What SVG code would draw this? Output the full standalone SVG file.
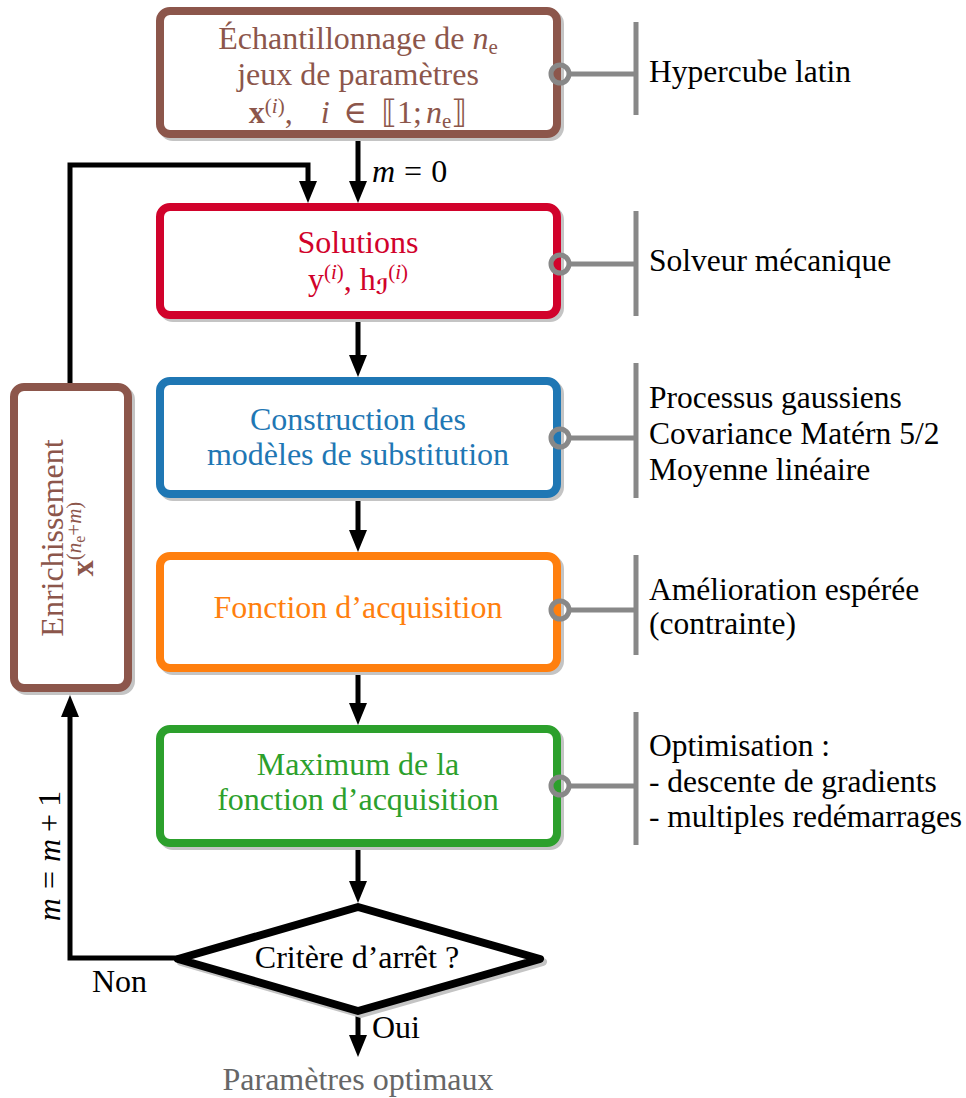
<svg xmlns="http://www.w3.org/2000/svg" width="966" height="1098" viewBox="0 0 966 1098">
<defs>
<style>
text{font-family:"Liberation Serif","DejaVu Serif","DejaVu Sans",serif;font-size:32px;fill:#000}
.c{text-anchor:middle}
.r{font-size:31.5px}
.box{fill:#fff;stroke-width:8}
.shadow{fill:#c4c4c4;stroke:#c4c4c4;stroke-width:8}
.flow{fill:none;stroke:#000;stroke-width:5}
.tag{fill:none;stroke:#888;stroke-width:5}
.it{font-style:italic}
.bf{font-weight:bold}
.sm{font-size:21px}
.xs{font-size:16px}
</style>
<marker id="ah" viewBox="0 0 22 18" refX="12" refY="9" markerWidth="22" markerHeight="18" markerUnits="userSpaceOnUse" orient="auto">
<path d="M0,0 L22,9 L0,18 z" fill="#000"/>
</marker>
</defs>
<rect width="966" height="1098" fill="#fff"/>

<g id="connectors">
<path class="flow" d="M358,138 V193" marker-end="url(#ah)"/>
<path class="flow" d="M358,319 V367" marker-end="url(#ah)"/>
<path class="flow" d="M358,498 V542" marker-end="url(#ah)"/>
<path class="flow" d="M358,672 V715" marker-end="url(#ah)"/>
<path class="flow" d="M358,847 V893" marker-end="url(#ah)"/>
<path class="flow" d="M358,1013 V1047" marker-end="url(#ah)"/>
<path class="flow" d="M70,385 V165 H308 V193" marker-end="url(#ah)"/>
<path class="flow" d="M180,958 H70 V705" marker-end="url(#ah)"/>
<text x="372" y="182"><tspan class="it">m</tspan><tspan dx="9">=</tspan><tspan dx="9">0</tspan></text>
<text x="372" y="1038">Oui</text>
<text x="92" y="992">Non</text>
<text transform="translate(60,856) rotate(-90)" class="c"><tspan class="it">m</tspan><tspan dx="9">=</tspan><tspan class="it" dx="9">m</tspan><tspan dx="7">+</tspan><tspan dx="7">1</tspan></text>
</g>

<g id="sampling">
<rect class="shadow" x="163" y="14" width="397" height="123" rx="10"/>
<rect class="box" x="160" y="11" width="397" height="123" rx="10" stroke="#8c564b"/>
<text x="358" y="49" class="c" style="fill:#8c564b">Échantillonnage de <tspan class="it">n</tspan><tspan class="sm" dy="5">e</tspan></text>
<text x="358" y="85" class="c" style="fill:#8c564b">jeux de paramètres</text>
<text x="358" y="123" class="c" style="fill:#8c564b"><tspan class="bf">x</tspan><tspan class="sm" dy="-10">(<tspan class="it">i</tspan>)</tspan><tspan dy="10">,</tspan><tspan class="it" dx="28">i</tspan><tspan dx="14">∈</tspan><tspan dx="14">⟦1;</tspan><tspan class="it" dx="4">n</tspan><tspan class="sm" dy="5">e</tspan><tspan dy="-5">⟧</tspan></text>
</g>

<g id="solutions">
<rect class="shadow" x="163" y="210" width="397" height="108" rx="10"/>
<rect class="box" x="160" y="207" width="397" height="108" rx="10" stroke="#d1022b"/>
<text x="358" y="253" class="c" style="fill:#d1022b">Solutions</text>
<text x="358" y="290" class="c" style="fill:#d1022b">y<tspan class="sm" dy="-11">(<tspan class="it">i</tspan>)</tspan><tspan dy="11">, h</tspan><tspan class="sm bf it" dy="4">ℐ</tspan><tspan class="sm" dy="-15">(<tspan class="it">i</tspan>)</tspan></text>
</g>

<g id="surrogate">
<rect class="shadow" x="163" y="384" width="397" height="113" rx="10"/>
<rect class="box" x="160" y="381" width="397" height="113" rx="10" stroke="#1f77b4"/>
<text x="358" y="430" class="c" style="fill:#1f77b4">Construction des</text>
<text x="358" y="465" class="c" style="fill:#1f77b4">modèles de substitution</text>
</g>

<g id="acquisition">
<rect class="shadow" x="163" y="559" width="397" height="112" rx="10"/>
<rect class="box" x="160" y="556" width="397" height="112" rx="10" stroke="#ff7f0e"/>
<text x="358" y="618" class="c" style="fill:#ff7f0e">Fonction d’acquisition</text>
</g>

<g id="maximum">
<rect class="shadow" x="163" y="732" width="397" height="114" rx="10"/>
<rect class="box" x="160" y="729" width="397" height="114" rx="10" stroke="#2ca02c"/>
<text x="358" y="775" class="c" style="fill:#2ca02c">Maximum de la</text>
<text x="358" y="810" class="c" style="fill:#2ca02c">fonction d’acquisition</text>
</g>

<g id="enrichment">
<rect class="shadow" x="17" y="390" width="114" height="301" rx="10"/>
<rect class="box" x="14" y="387" width="114" height="301" rx="10" stroke="#8c564b"/>
<text transform="translate(63,538) rotate(-90)" class="c" style="fill:#8c564b">Enrichissement</text>
<text transform="translate(93,539) rotate(-90)" class="c" style="fill:#8c564b"><tspan class="bf">x</tspan><tspan class="sm" dy="-12">(<tspan class="it">n</tspan><tspan class="xs" dy="4">e</tspan><tspan dy="-4">+</tspan><tspan class="it">m</tspan>)</tspan></text>
</g>

<g id="stop">
<path d="M181,962 L361,910 L543,962 L361,1014 Z" fill="#c4c4c4" stroke="#c4c4c4" stroke-width="8" stroke-linejoin="round"/>
<path d="M178,959 L358,907 L540,959 L358,1011 Z" fill="#fff" stroke="#000" stroke-width="8" stroke-linejoin="round"/>
<text x="357" y="968" class="c">Critère d’arrêt ?</text>
</g>

<g id="result">
<text x="358" y="1090" class="c" style="fill:#666">Paramètres optimaux</text>
</g>

<g id="tags">
<circle class="tag" cx="560" cy="74" r="9"/><path class="tag" d="M569,74 H636 M636,22 V115"/>
<circle class="tag" cx="560" cy="264" r="9"/><path class="tag" d="M569,264 H636 M636,211 V316"/>
<circle class="tag" cx="560" cy="438" r="9"/><path class="tag" d="M569,438 H636 M636,363 V498"/>
<circle class="tag" cx="560" cy="610" r="9"/><path class="tag" d="M569,610 H636 M636,555 V655"/>
<circle class="tag" cx="560" cy="786" r="9"/><path class="tag" d="M569,786 H636 M636,712 V845"/>
<text class="r" x="649" y="82">Hypercube latin</text>
<text class="r" x="649" y="271">Solveur mécanique</text>
<text class="r" x="649" y="408">Processus gaussiens</text>
<text class="r" x="649" y="444">Covariance Matérn 5/2</text>
<text class="r" x="649" y="480">Moyenne linéaire</text>
<text class="r" x="649" y="600">Amélioration espérée</text>
<text class="r" x="649" y="634">(contrainte)</text>
<text class="r" x="649" y="756">Optimisation :</text>
<text class="r" x="649" y="792">- descente de gradients</text>
<text class="r" x="649" y="827">- multiples redémarrages</text>
</g>
</svg>
